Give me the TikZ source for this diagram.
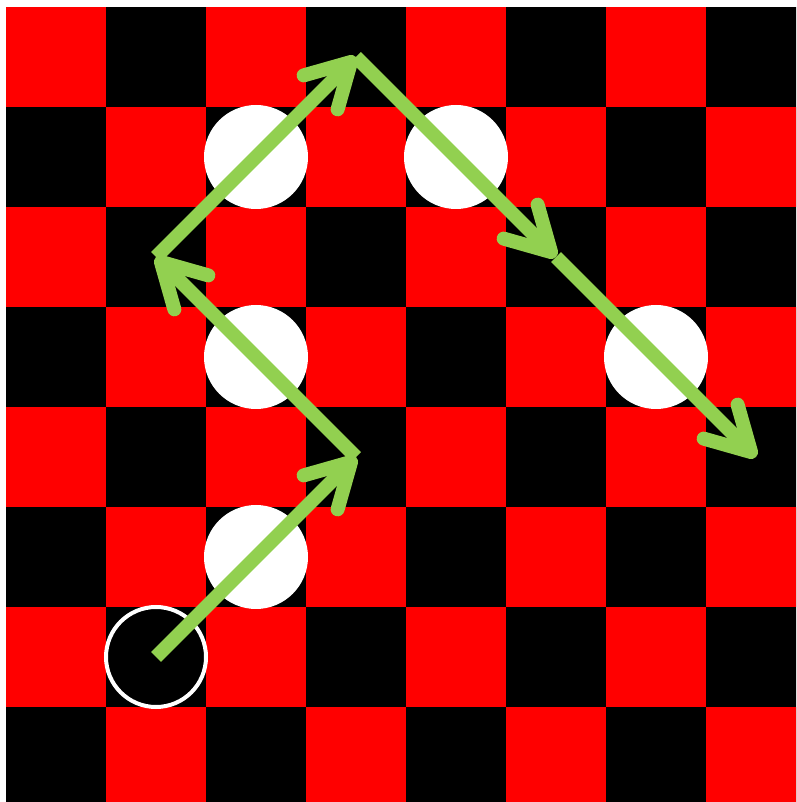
\documentclass[tikz,border=0pt]{standalone}
\usetikzlibrary{arrows.meta}
\definecolor{boardred}{RGB}{255,0,0}
\definecolor{jumpgreen}{RGB}{146,208,80}

\begin{document}
\begin{tikzpicture}[
    piece/.style={circle, fill=white, minimum size=1.04cm, inner sep=0pt},
    startring/.style={circle, draw=white, line width=0.04cm, minimum size=1cm, inner sep=0pt},
    jump/.style={draw=jumpgreen, line width=0.14cm,
        -{Straight Barb[round, length=0.43cm, width=0.48cm]}}]
  \useasboundingbox (0,0) rectangle (7.96,8.02);
  \clip (0,0) rectangle (7.96,8.02);
  \fill[white] (0,0) rectangle (7.96,8.02);
  \begin{scope}[shift={(0.56,7.45)}, yscale=-1]
    % Board
    \fill[black] (-0.5,-0.5) rectangle (7.5,7.5);
    \foreach \i in {0,...,7}
      \foreach \j in {0,...,7} {
        \ifodd\numexpr\i+\j\relax\else
          \fill[boardred] (\i-0.5,\j-0.5) rectangle ++(1,1);
        \fi
      }
    % Pieces to jump
    \node[piece] (w1) at (2,1) {};
    \node[piece] (w2) at (4,1) {};
    \node[piece] (w3) at (2,3) {};
    \node[piece] (w4) at (6,3) {};
    \node[piece] (w5) at (2,5) {};
    % Starting square
    \node[startring] (start) at (1,6) {};
    % Landing squares
    \coordinate (m1) at (3,4);
    \coordinate (m2) at (1,2);
    \coordinate (m3) at (3,0);
    \coordinate (m4) at (5,2);
    \coordinate (m5) at (7,4);
    \draw[jump] (start.center) -- (m1);
    \draw[jump] (m1) -- (m2);
    \draw[jump] (m2) -- (m3);
    \draw[jump] (m3) -- (m4);
    \draw[jump] (m4) -- (m5);
  \end{scope}
\end{tikzpicture}
\end{document}
